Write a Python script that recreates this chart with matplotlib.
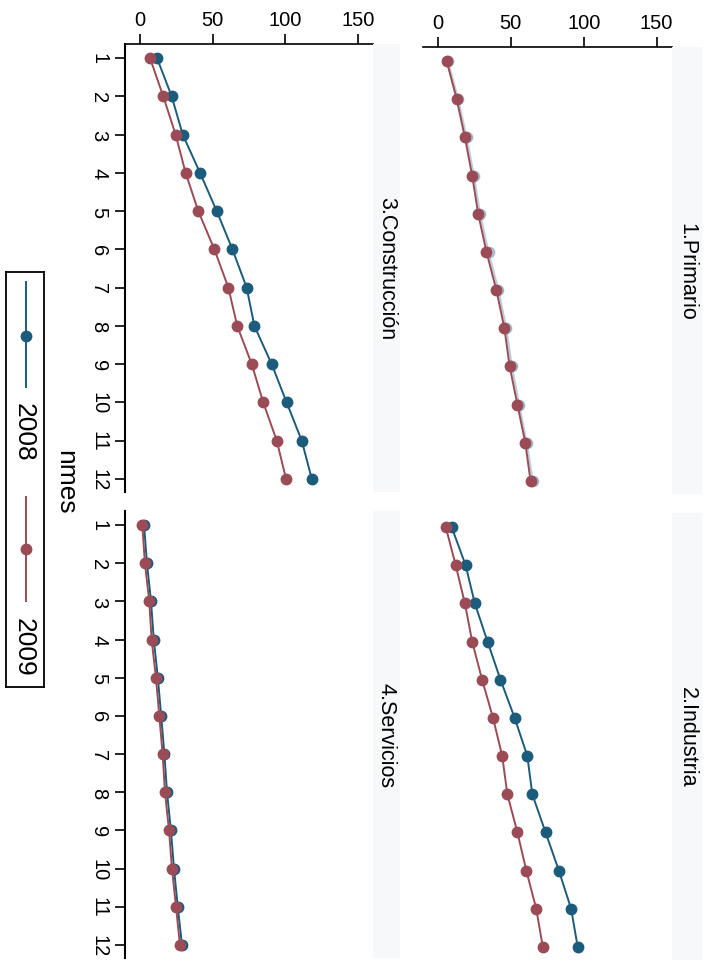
# -*- coding: utf-8 -*-
"""
Monthly cumulative series by sector, 2008 vs 2009 (rotated Stata by() layout)
"""
import matplotlib
matplotlib.use("Agg")
import matplotlib.pyplot as plt
from matplotlib.patches import Rectangle
from matplotlib.lines import Line2D

plt.rcParams["font.family"] = ["Liberation Sans", "DejaVu Sans"]

# data
months = [1, 2, 3, 4, 5, 6, 7, 8, 9, 10, 11, 12]
month_labels = ["1", "2", "3", "4", "5", "6", "7", "8", "9", "10", "11", "12"]
value_ticks = [0, 50, 100, 150]
years = ["2008", "2009"]

primario_2008 = [7.0, 14.0, 19.8, 24.8, 29.0, 34.8, 41.6, 47.0, 50.8, 55.8, 61.0, 65.2]
primario_2009 = [6.1, 13.0, 18.6, 23.6, 27.7, 33.4, 40.2, 45.7, 49.3, 54.6, 60.0, 63.6]
industria_2008 = [9.5, 19.1, 25.4, 34.1, 43.0, 52.7, 61.4, 64.8, 73.9, 83.0, 91.4, 95.9]
industria_2009 = [5.5, 12.3, 18.6, 23.6, 30.4, 37.9, 44.2, 47.7, 54.6, 60.7, 67.5, 72.0]
construccion_2008 = [11.7, 21.8, 29.4, 41.3, 52.8, 63.6, 73.4, 78.7, 90.6, 100.9, 111.3, 118.2]
construccion_2009 = [6.9, 16.0, 24.5, 31.4, 40.1, 51.2, 60.8, 66.9, 76.9, 84.8, 94.1, 100.5]
servicios_2008 = [2.8, 4.8, 7.6, 9.5, 12.3, 14.6, 16.8, 18.6, 21.3, 23.4, 26.0, 28.9]
servicios_2009 = [1.6, 3.4, 6.4, 8.0, 11.0, 13.3, 15.6, 17.2, 20.0, 22.0, 24.8, 27.5]

# figure geometry (pixels)
W, H = 705, 962
c2008 = "#1b5b7b"
c2009 = "#9a4b55"
strip_col = "#f7f8fa"


def rect(x0, y0, x1, y1):
    """pixel box (top-left origin) -> figure fraction box"""
    return [x0 / W, 1 - y1 / H, (x1 - x0) / W, (y1 - y0) / H]


fig = plt.figure(figsize=(W / 100, H / 100), dpi=100)
fig.patch.set_facecolor("white")

# (title, s2008, s2009, box, strip x-range, value axis, month axis, alpha for 2008)
panels = [
    ("1.Primario", primario_2008, primario_2009, (422.7, 48, 671.7, 495), (672, 702), True, False, 0.3),
    ("2.Industria", industria_2008, industria_2009, (422.7, 514, 671.7, 961), (672, 702), False, False, 1.0),
    ("3.Construcción", construccion_2008, construccion_2009, (125, 45, 373, 493), (373, 400), True, True, 1.0),
    ("4.Servicios", servicios_2008, servicios_2009, (125, 512, 373, 959), (373, 400), False, True, 1.0),
]

for title, s08, s09, box, strip, show_value, show_month, a08 in panels:
    x0, y0, x1, y1 = box
    # light subtitle strip next to each panel
    fig.patches.append(Rectangle((strip[0] / W, 1 - y1 / H), (strip[1] - strip[0]) / W,
                                 (y1 - y0) / H, transform=fig.transFigure,
                                 facecolor=strip_col, edgecolor="none", zorder=0))
    fig.text((strip[0] + strip[1]) / 2 / W, 1 - (y0 + y1) / 2 / H, title,
             rotation=-90, ha="center", va="center", fontsize=15.5)

    ax = fig.add_axes(rect(x0, y0, x1, y1))
    ax.plot(s08, months, color=c2008, lw=1.4, marker="o", ms=7.5, alpha=a08, zorder=2)
    ax.plot(s09, months, color=c2009, lw=1.4, marker="o", ms=7.5, zorder=3)

    ax.set_xlim(-10.3, 160.3)
    ax.set_ylim(12.34, 0.634)
    ax.spines["bottom"].set_visible(False)
    ax.spines["right"].set_visible(False)

    if show_value:
        ax.xaxis.tick_top()
        ax.set_xticks(value_ticks)
        ax.set_xticklabels([str(v) for v in value_ticks], fontsize=14.5)
        ax.tick_params(axis="x", length=7, width=1.2, pad=4)
        ax.spines["top"].set_linewidth(1.2)
    else:
        ax.set_xticks([])
        ax.spines["top"].set_visible(False)

    if show_month:
        ax.set_yticks(months)
        ax.set_yticklabels(month_labels, rotation=-90, fontsize=14.5, va="center")
        ax.tick_params(axis="y", length=7, width=1.2, pad=5)
        ax.spines["left"].set_linewidth(1.5)
    else:
        ax.set_yticks([])
        ax.spines["left"].set_visible(False)

# x title (month variable)
fig.text(65 / W, 1 - 482 / H, "nmes", rotation=-90, ha="center", va="center", fontsize=19)

# legend drawn by hand, rotated like the rest of the graph
lax = fig.add_axes(rect(6, 273, 44, 688))
lax.set_xlim(0, 38)
lax.set_ylim(415, 0)
lax.set_xticks([])
lax.set_yticks([])
for sp in lax.spines.values():
    sp.set_linewidth(1.3)
legend_keys = [(years[0], c2008, 10, 115, 64, 159), (years[1], c2009, 225, 329, 277, 374)]
for label, col, ya, yb, ym, yt in legend_keys:
    lax.add_line(Line2D([20, 20], [ya, yb], color=col, lw=1.4))
    lax.plot([20], [ym], marker="o", ms=7.5, color=col)
    lax.text(18, yt, label, rotation=-90, ha="center", va="center", fontsize=19)

plt.savefig("out.png", dpi=100, facecolor="white")
